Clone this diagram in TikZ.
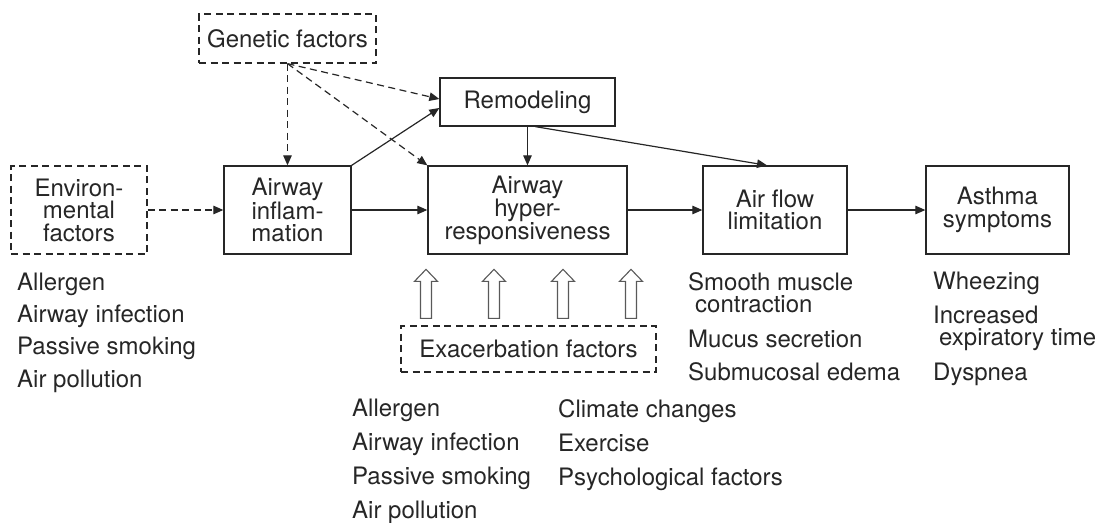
\documentclass[tikz,border=0pt]{standalone}
\usepackage{fontspec}
\setmainfont{TeX Gyre Heros}
\usetikzlibrary{arrows.meta}

\begin{document}
\begin{tikzpicture}[x=1pt,y=-1pt,
  every node/.style={text=black!85,font=\fontsize{24}{22.5}\selectfont},
  box/.style={draw=black!85,line width=1.3pt,align=center,inner sep=0pt},
  dbox/.style={box,dash pattern=on 7pt off 4.5pt},
  arr/.style={-{Triangle[length=10pt,width=8.5pt]}},
  link/.style={draw=black!85,line width=1.2pt,arr},
  dlink/.style={link,dash pattern=on 7pt off 4.5pt},
  list/.style={align=left,anchor=base west,inner sep=0pt,font=\fontsize{24}{33}\selectfont},
  openarr/.style={draw=black!65,line width=1.1pt,line join=miter}]

\useasboundingbox (0,0) rectangle (1099,522);

% factors and stages
\node [dbox,name=gen,minimum width=177pt,minimum height=49pt] at (287.5,38.5){Genetic factors};
\node [box,name=remod,minimum width=175pt,minimum height=48pt] at (527.5,102){Remodeling};
\node [dbox,name=env,minimum width=136pt,minimum height=88pt] at (79,210){Environ-\\mental\\factors};
\node [box,name=infl,minimum width=127pt,minimum height=88pt] at (287.5,210){Airway\\inflam-\\mation};
\node [box,name=ahr,minimum width=199pt,minimum height=88pt] at (527.5,210){Airway\\hyper-\\responsiveness};
\node [box,name=afl,minimum width=144pt,minimum height=88pt] at (775,210){Air flow\\limitation};
\node [box,name=sym,minimum width=143pt,minimum height=88pt] at (997.5,210){Asthma\\symptoms};
\node [dbox,name=exa,minimum width=255pt,minimum height=46pt] at (528.5,349){Exacerbation factors};

% open arrows from the exacerbation factors
\foreach \dx in {-102.5,-34.5,34.5,102.5}
  \draw [openarr] ([shift={(\dx,-7)}]exa.north) -- ++(-5.5,0) -- ++(0,-37) -- ++(-6,0)
    -- ++(11.5,-12) -- ++(11.5,12) -- ++(-6,0) -- ++(0,37) -- cycle;

% links
\draw [dlink] (gen.south) -- (infl.north);
\draw [dlink] (gen.south) -- ([yshift=3pt]remod.west);
\draw [dlink] (gen.south) -- (ahr.north west);
\draw [dlink] (env.east) -- (infl.west);
\draw [link] (infl.north east) -- ([yshift=-6pt]remod.west);
\draw [link] (infl.east) -- (ahr.west);
\draw [link] (remod.south) -- (ahr.north);
\draw [link] ([xshift=8pt]remod.south) -- ([xshift=-8pt]afl.north);
\draw [link] (ahr.east) -- (afl.west);
\draw [link] (afl.east) -- (sym.west);

% lists
\node [list,name=envlist,font=\fontsize{24}{32.3}\selectfont] at (17,387)
  {Allergen\\Airway infection\\Passive smoking\\Air pollution};
\node [list,name=exalist,font=\fontsize{24}{33.7}\selectfont] at (352,518)
  {Allergen\\Airway infection\\Passive smoking\\Air pollution};
\node [list,name=exalist2,font=\fontsize{24}{33.7}\selectfont] at (558,485)
  {Climate changes\\Exercise\\Psychological factors};
\node [list,name=afllist] at (688,380)
  {Smooth muscle\\[-11pt]\hspace*{7pt}contraction\\[2pt]Mucus secretion\\Submucosal edema};
\node [list,name=symlist] at (933,380)
  {Wheezing\\[1pt]Increased\\[-11pt]\hspace*{6pt}expiratory time\\[2pt]Dyspnea};
\end{tikzpicture}
\end{document}
